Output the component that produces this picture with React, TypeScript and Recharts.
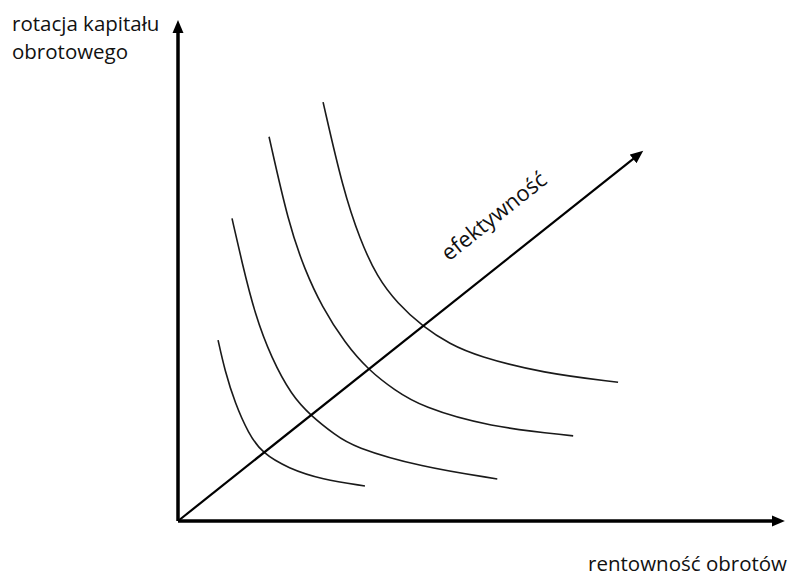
import { LineChart, Line, XAxis, YAxis } from 'recharts';

// units: x 0..100 across the plot width, y 0..100 across the plot height
const curve1 = [
  { x: 6.6, y: 36.1 },
  { x: 7.7, y: 30.1 },
  { x: 9.4, y: 23.5 },
  { x: 11.6, y: 17.5 },
  { x: 13.8, y: 13.6 },
  { x: 18.2, y: 10.5 },
  { x: 23.7, y: 8.3 },
  { x: 30.8, y: 7.0 },
];
const curve2 = [
  { x: 8.9, y: 60.4 },
  { x: 10.5, y: 51.8 },
  { x: 12.7, y: 41.1 },
  { x: 15.4, y: 32.5 },
  { x: 18.7, y: 25.1 },
  { x: 21.9, y: 21.0 },
  { x: 25.9, y: 17.2 },
  { x: 28.8, y: 14.8 },
  { x: 39.9, y: 10.8 },
  { x: 52.6, y: 8.4 },
];
const curve3 = [
  { x: 15.0, y: 76.7 },
  { x: 18.2, y: 59.4 },
  { x: 20.9, y: 50.1 },
  { x: 23.7, y: 42.8 },
  { x: 27.5, y: 35.5 },
  { x: 31.4, y: 30.1 },
  { x: 35.7, y: 26.1 },
  { x: 40.1, y: 22.8 },
  { x: 51.1, y: 18.8 },
  { x: 65.1, y: 17.0 },
];
const curve4 = [
  { x: 23.9, y: 83.6 },
  { x: 27.2, y: 66.1 },
  { x: 30.0, y: 56.1 },
  { x: 32.8, y: 48.7 },
  { x: 36.1, y: 43.5 },
  { x: 40.4, y: 38.7 },
  { x: 44.8, y: 35.3 },
  { x: 49.3, y: 32.9 },
  { x: 60.1, y: 29.5 },
  { x: 72.5, y: 27.7 },
];
const curves = [curve1, curve2, curve3, curve4];

const xAxisLine = [{ x: 0, y: 0 }, { x: 98.0, y: 0 }];
const yAxisLine = [{ x: 0, y: 0 }, { x: 0, y: 97.6 }];
const diagonal = [{ x: 0, y: 0 }, { x: 75.1, y: 72.4 }];

const yLabel = ['rotacja kapitału', 'obrotowego'];
const xLabel = 'rentowność obrotów';
const diagLabel = 'efektywność';

const FONT = '"Open Sans", sans-serif';
const INK = '#111';

export default function App() {
  return (
    <div style={{ position: 'absolute', left: 0, top: 0, width: 790, height: 576, background: '#fff' }}>
      <LineChart width={790} height={576} margin={{ top: 20, right: 5, bottom: 55, left: 178 }}>
        <defs>
          <marker id="axisArrow" markerUnits="userSpaceOnUse" markerWidth={14} markerHeight={12} refX={1} refY={6} orient="auto">
            <path d="M0,0.5 L13,6 L0,11.5 z" fill="#000" />
          </marker>
          <marker id="diagArrow" markerUnits="userSpaceOnUse" markerWidth={14} markerHeight={12} refX={1} refY={6} orient="auto">
            <path d="M0,0.5 L13,6 L0,11.5 z" fill="#000" />
          </marker>
        </defs>
        <XAxis type="number" dataKey="x" domain={[0, 100]} hide />
        <YAxis type="number" dataKey="y" domain={[0, 100]} hide />
        {/* basis smooths out reading error in the hand-picked points */}
        {curves.map((c, i) => (
          <Line
            key={i}
            data={c}
            dataKey="y"
            type="basis"
            stroke="#1a1a1a"
            strokeWidth={1.6}
            dot={false}
            activeDot={false}
            isAnimationActive={false}
          />
        ))}
        <Line data={diagonal} dataKey="y" type="linear" stroke="#000" strokeWidth={2.2} dot={false}
          activeDot={false} isAnimationActive={false} markerEnd="url(#diagArrow)" />
        <Line data={xAxisLine} dataKey="y" type="linear" stroke="#000" strokeWidth={3.5} dot={false}
          activeDot={false} isAnimationActive={false} markerEnd="url(#axisArrow)" />
        <Line data={yAxisLine} dataKey="y" type="linear" stroke="#000" strokeWidth={3.5} dot={false}
          activeDot={false} isAnimationActive={false} markerEnd="url(#axisArrow)" />
        <text x={12} y={31} fontFamily={FONT} fontSize={20.5} fill={INK}>{yLabel[0]}</text>
        <text x={12} y={59} fontFamily={FONT} fontSize={20.5} fill={INK}>{yLabel[1]}</text>
        <text x={787} y={571} textAnchor="end" fontFamily={FONT} fontSize={20.5} fill={INK}>{xLabel}</text>
        <text x={493} y={215} textAnchor="middle" dominantBaseline="central" transform="rotate(-38.5 493 215)"
          fontFamily={FONT} fontSize={22} fill={INK}>{diagLabel}</text>
      </LineChart>
    </div>
  );
}
